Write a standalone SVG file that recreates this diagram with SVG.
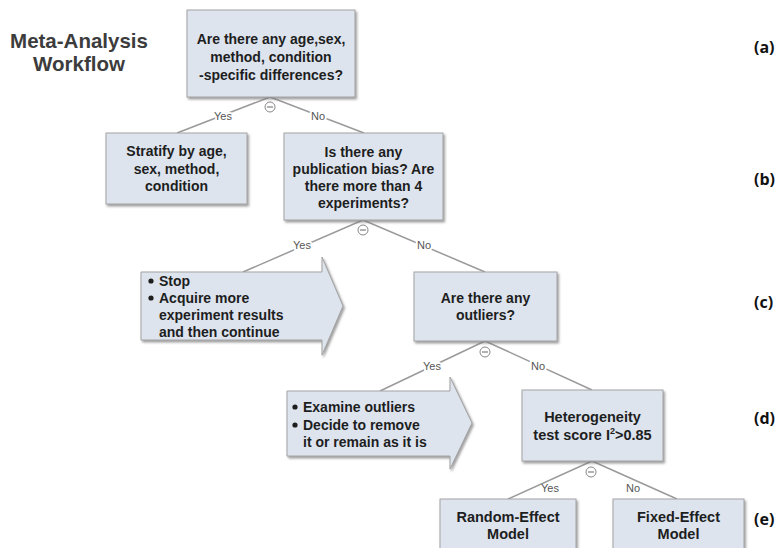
<svg xmlns="http://www.w3.org/2000/svg" width="779" height="548" viewBox="0 0 779 548">
<defs>
<filter id="sh" x="-10%" y="-10%" width="125%" height="130%">
<feDropShadow dx="1.5" dy="2" stdDeviation="1.2" flood-color="#777" flood-opacity="0.7"/>
</filter>
</defs>
<style>
.box{fill:#dde4ee;stroke:#a3a3a3;stroke-width:1;filter:url(#sh)}
.t{font-family:"Liberation Sans",Arial,sans-serif;font-weight:bold;font-size:14px;fill:#1e1e1e;text-anchor:middle}
.tb{font-size:14.5px}
.tl{font-family:"Liberation Sans",Arial,sans-serif;font-weight:bold;font-size:14px;fill:#1e1e1e}
.ln{stroke:#9a9a9a;stroke-width:1.5;fill:none}
.lab{font-family:"Liberation Sans",Arial,sans-serif;font-size:11px;fill:#555;text-anchor:middle;paint-order:stroke;stroke:#fff;stroke-width:4px}
.lab2{font-family:"Liberation Sans",Arial,sans-serif;font-size:11px;fill:#555;text-anchor:middle}
.ci{fill:#fff;stroke:#888;stroke-width:1}
.mi{stroke:#666;stroke-width:1}
.side{font-family:"Open Sans","DejaVu Sans",sans-serif;font-weight:bold;font-size:16px;fill:#111}
.title{font-family:"Liberation Sans",Arial,sans-serif;font-weight:bold;font-size:20.5px;fill:#3c3c3c;text-anchor:middle}
</style>
<rect width="779" height="548" fill="#fff"/>
<text class="title" x="79" y="48">Meta-Analysis</text>
<text class="title" x="79" y="71">Workflow</text>

<g id="connectors">
<path class="ln" d="M270,97 L177,133 M270,97 L364,133"/>
<text class="lab" x="223" y="120">Yes</text>
<text class="lab" x="318" y="120">No</text>
<circle class="ci" cx="270" cy="107" r="5"/><line class="mi" x1="267" y1="107" x2="273" y2="107"/>

<path class="ln" d="M363,220 L243,272 M363,220 L485,272"/>
<text class="lab" x="302" y="249">Yes</text>
<text class="lab" x="424" y="249">No</text>
<circle class="ci" cx="363" cy="230" r="5"/><line class="mi" x1="360" y1="230" x2="366" y2="230"/>

<path class="ln" d="M485,341 L380,391 M485,341 L592,390"/>
<text class="lab" x="432" y="370">Yes</text>
<text class="lab" x="538" y="370">No</text>
<circle class="ci" cx="485" cy="352" r="5"/><line class="mi" x1="482" y1="352" x2="488" y2="352"/>

<path class="ln" d="M592,461 L508,499 M592,461 L677,499"/>
<text class="lab2" x="550" y="492">Yes</text>
<text class="lab2" x="633" y="492">No</text>
<circle class="ci" cx="591" cy="472" r="5"/><line class="mi" x1="588" y1="472" x2="594" y2="472"/>
</g>

<g id="node-a">
<rect class="box" x="187" y="10" width="168" height="87"/>
<text class="t" x="271" y="44">Are there any age,sex,</text>
<text class="t" x="271" y="62">method, condition</text>
<text class="t" x="271" y="80">-specific differences?</text>
</g>

<g id="node-stratify">
<rect class="box" x="106" y="133" width="141" height="71"/>
<text class="t" x="176.5" y="156">Stratify by age,</text>
<text class="t" x="176.5" y="173.5">sex, method,</text>
<text class="t" x="176.5" y="191">condition</text>
</g>

<g id="node-b">
<rect class="box" x="284" y="133" width="159" height="87"/>
<text class="t" x="363.5" y="157">Is there any</text>
<text class="t" x="363.5" y="174">publication bias? Are</text>
<text class="t" x="363.5" y="191">there more than 4</text>
<text class="t" x="363.5" y="208">experiments?</text>
</g>

<g id="node-stop">
<path class="box" d="M141,272 L322,272 L322,257 L343,306 L322,355 L322,340 L141,340 Z"/>
<circle cx="151" cy="281" r="2.6" fill="#1e1e1e"/>
<text class="tl" x="159" y="286">Stop</text>
<circle cx="151" cy="298" r="2.6" fill="#1e1e1e"/>
<text class="tl" x="159" y="303">Acquire more</text>
<text class="tl" x="159" y="320">experiment results</text>
<text class="tl" x="159" y="337">and then continue</text>
</g>

<g id="node-c">
<rect class="box" x="414" y="272" width="143" height="69"/>
<text class="t" x="485.5" y="303">Are there any</text>
<text class="t" x="485.5" y="320">outliers?</text>
</g>

<g id="node-examine">
<path class="box" d="M287,391 L450,391 L450,377 L472,423 L450,469 L450,456 L287,456 Z"/>
<circle cx="295" cy="407" r="2.6" fill="#1e1e1e"/>
<text class="tl" x="303" y="412">Examine outliers</text>
<circle cx="295" cy="425" r="2.6" fill="#1e1e1e"/>
<text class="tl" x="303" y="430">Decide to remove</text>
<text class="tl" x="303" y="447">it or remain as it is</text>
</g>

<g id="node-d">
<rect class="box" x="522" y="390" width="141" height="71"/>
<text class="t tb" x="592.5" y="422">Heterogeneity</text>
<text class="t tb" x="592.5" y="440">test score I<tspan dy="-6" font-size="9">2</tspan><tspan dy="6">&gt;0.85</tspan></text>
</g>

<g id="node-random">
<rect class="box" x="440" y="499" width="136" height="60"/>
<text class="t tb" x="508" y="522">Random-Effect</text>
<text class="t tb" x="508" y="539">Model</text>
</g>

<g id="node-fixed">
<rect class="box" x="613" y="499" width="131" height="60"/>
<text class="t tb" x="678.5" y="522">Fixed-Effect</text>
<text class="t tb" x="678.5" y="539">Model</text>
</g>

<g id="side-labels">
<text class="side" x="754" y="53">(a)</text>
<text class="side" x="754" y="185">(b)</text>
<text class="side" x="754" y="308">(c)</text>
<text class="side" x="754" y="424">(d)</text>
<text class="side" x="754" y="525">(e)</text>
</g>
</svg>
